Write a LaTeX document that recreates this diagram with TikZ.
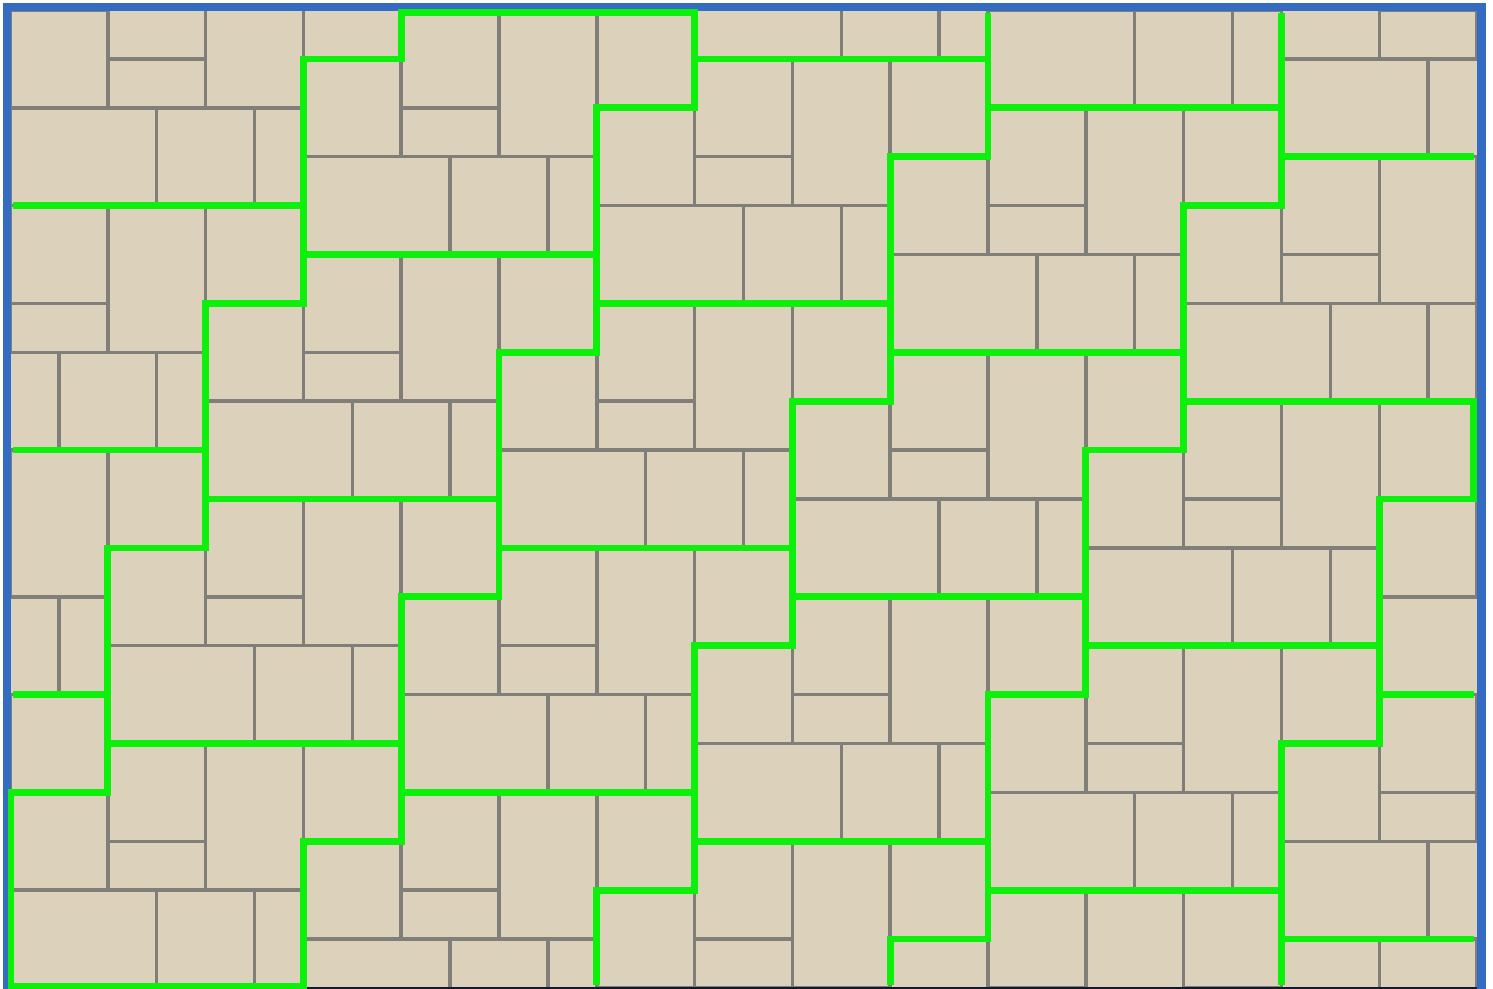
\documentclass[tikz,border=0pt]{standalone}
\usepackage{tikz}

\definecolor{tilebeige}{RGB}{220,209,187}
\definecolor{groutgray}{RGB}{128,126,120}
\definecolor{seamgreen}{RGB}{12,240,12}
\definecolor{frameblue}{RGB}{52,108,196}
\definecolor{edgenavy}{RGB}{20,24,48}

\begin{document}
\begin{tikzpicture}[
    x=1cm, y=-1cm,
    tile/.style={fill=tilebeige, draw=groutgray, line width=2pt},
    seam/.style={draw=seamgreen, line width=3.9pt, line join=miter},
    edge/.style={draw=edgenavy, line width=0.6pt},
    frame/.style={draw=frameblue, line width=4.8pt}
]
\useasboundingbox (-0.2045,-0.2045) rectangle (30.327,20.02);

\begin{scope}
\clip (0,0) rectangle (30,20);
\foreach \k in {-3,...,6}{
  \foreach \m in {-2,...,5}{
    \begin{scope}[shift={({6+6*\k-2*\m},{\k+5*\m})}]
      \draw[tile] (2,0) rectangle (4,2);
      \draw[tile] (4,0) rectangle (6,3);
      \draw[tile] (6,0) rectangle (8,2);
      \draw[tile] (0,1) rectangle (2,3);
      \draw[tile] (2,2) rectangle (4,3);
      \draw[tile] (0,3) rectangle (3,5);
      \draw[tile] (3,3) rectangle (5,5);
      \draw[tile] (5,3) rectangle (6,5);
    \end{scope}
  }
}
\end{scope}

\begin{scope}
\clip (0.07,0.07) rectangle (29.93,19.93);
\foreach \k in {-3,...,6}{
  \foreach \m in {-2,...,5}{
    \begin{scope}[shift={({6+6*\k-2*\m},{\k+5*\m})}]
      \draw[seam] (2,0) -- (8,0) -- (8,2) -- (6,2) -- (6,5) -- (0,5) -- (0,1) -- (2,1) -- cycle;
    \end{scope}
  }
}
\end{scope}

\draw[edge] (0,0) rectangle (30,20);
\draw[frame] (-0.055,20.3) -- (-0.055,-0.055) -- (30.09,-0.055) -- (30.09,20.3);

\draw[seam] (7.93,0.05) -- (14.07,0.05);
\draw[seam] (0.02,15.93) -- (0.02,20.1);
\draw[seam] (-0.05,19.97) -- (6.07,19.97);
\draw[seam] (29.93,7.93) -- (29.93,10.07);
\end{tikzpicture}
\end{document}
